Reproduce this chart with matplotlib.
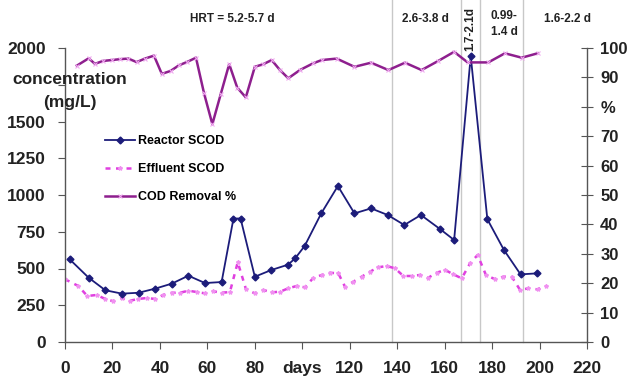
import matplotlib
matplotlib.use("Agg")
import matplotlib.pyplot as plt

plt.rcParams['font.family'] = ['Liberation Sans', 'DejaVu Sans']
plt.rcParams['font.weight'] = 'bold'

# Reactor SCOD (mg/L)
reactor_days = [2, 10, 17, 24, 31, 38, 45, 52, 59, 66, 71, 74, 80, 87, 94, 97, 101,
                108, 115, 122, 129, 136, 143, 150, 158, 164, 171, 178, 185, 192, 199]
reactor_vals = [562, 437, 352, 329, 335, 363, 397, 451, 401, 408, 840, 840, 444, 490, 526, 569, 653,
                875, 1061, 875, 909, 864, 796, 864, 769, 694, 1945, 835, 626, 460, 467]

# Effluent SCOD (mg/L)
effl_days = [0, 5.6, 9.4, 13.4, 16.9, 20.4, 23.9, 27.4, 30.9, 34.4, 37.9, 41.4, 45, 48.5, 52, 55.5,
             59, 62.5, 66, 69.5, 72.8, 76.3, 80, 83.6, 87.1, 90.6, 94.1, 97.6, 101.1, 104.6, 108.2,
             111.7, 115.2, 118, 121.5, 125, 128.5, 132, 135.6, 139.1, 142.6, 146.1, 149.6, 153.1,
             156.6, 160.2, 163.7, 167.2, 170.7, 173.9, 177.4, 181.2, 184.7, 188.3, 191.8, 195.3,
             199.2, 202.7]
effl_vals = [427, 381, 313, 320, 293, 277, 299, 281, 293, 299, 293, 320, 335, 335, 349, 340,
             331, 345, 335, 340, 542, 358, 331, 354, 338, 342, 365, 381, 372, 435, 456,
             471, 467, 376, 410, 444, 478, 508, 517, 501, 449, 449, 456, 437,
             471, 490, 460, 433, 535, 592, 456, 427, 444, 444, 354, 365,
             358, 381]

# COD Removal %
rem_days = [5, 10, 12.6, 16, 19.7, 23.2, 26.7, 30.2, 33.7, 37.5, 40.8, 44.5, 48, 51.6, 55.2,
            58.6, 62.1, 65.6, 69.2, 72.6, 76.2, 80, 83.6, 87.1, 90.6, 94.1, 99, 104.6, 108.2,
            114.5, 122, 129, 136.3, 143.3, 150.3, 157.3, 164, 169.7, 178.4, 185.4, 192.5, 199.2]
rem_vals = [94.0, 96.5, 94.6, 95.6, 95.9, 96.2, 96.4, 95.2, 96.4, 97.4, 91.2, 92.2, 94.1, 95.3, 96.7,
            84.6, 74.1, 84.2, 94.5, 86.5, 83.2, 93.6, 94.5, 95.9, 92.5, 89.7, 92.5, 94.8, 95.9,
            96.4, 93.6, 95.0, 92.5, 95.0, 92.5, 95.6, 98.7, 95.1, 95.1, 98.2, 96.7, 98.2]

hrt_lines = [138, 167, 175, 193]
x_ticks = [0, 20, 40, 60, 80, 100, 120, 140, 160, 180, 200, 220]
x_ticklabels = ['0', '20', '40', '60', '80', 'days', '120', '140', '160', '180', '200', '220']
y_ticks = [0, 250, 500, 750, 1000, 1250, 1500, 1750, 2000]
y_ticklabels = ['0', '250', '500', '750', '1000', '1250', '1500', '', '2000']
r_ticks = [0, 10, 20, 30, 40, 50, 60, 70, 80, 90, 100]
r_ticklabels = ['0', '10', '20', '30', '40', '50', '60', '70', '%', '90', '100']

fig = plt.figure(figsize=(6.3, 3.81), dpi=100)
ax = fig.add_axes([65/630, 1-342/381, (587-65)/630, (342-48)/381])
ax2 = ax.twinx()

navy = '#1c1c7a'
magenta = '#e040e0'
purple = '#8e1f8e'

for x in hrt_lines:
    ax.axvline(x, ymin=0, ymax=342/294, color='#c8c8c8', lw=1.0, clip_on=False, zorder=0)

l1, = ax.plot(reactor_days, reactor_vals, color=navy, lw=1.3, marker='D', ms=3.5,
              mfc=navy, mec=navy, label='Reactor SCOD', zorder=3)
l2, = ax.plot(effl_days, effl_vals, color=magenta, lw=1.8, ls=(0, (2, 2.2)), marker='*', ms=3,
              mfc='#f090f0', mec='#f090f0', label='Effluent SCOD', zorder=2)
l3, = ax2.plot(rem_days, rem_vals, color=purple, lw=1.8, marker='x', ms=3.5,
               mec='#f0a8f0', mew=0.8, label='COD Removal %', zorder=3)

ax.set_xlim(0, 220)
ax.set_ylim(0, 2000)
ax2.set_ylim(0, 100)

ax.set_xticks(x_ticks)
ax.set_xticklabels(x_ticklabels)
ax.set_yticks(y_ticks)
ax.set_yticklabels(y_ticklabels)
ax2.set_yticks(r_ticks)
ax2.set_yticklabels(r_ticklabels)

for a in (ax, ax2):
    a.spines['top'].set_visible(False)
    for s in a.spines.values():
        s.set_color('#555555')
        s.set_linewidth(1.0)
ax.spines['right'].set_visible(False)
ax2.spines['left'].set_visible(False)
ax2.spines['bottom'].set_visible(False)

ax.tick_params(axis='x', direction='out', length=5, pad=9, labelsize=12.5, colors='#555555',
               labelcolor='#222222')
ax.tick_params(axis='y', direction='out', length=5, pad=9, labelsize=12.5, colors='#555555',
               labelcolor='#222222')
ax2.tick_params(axis='y', direction='inout', length=9, pad=5, labelsize=12, colors='#555555',
                labelcolor='#222222')
for lab in ax.get_xticklabels() + ax.get_yticklabels() + ax2.get_yticklabels():
    lab.set_fontweight('bold')

fig.text(70/630, 1-80/381, 'concentration', ha='center', va='center', fontsize=12.5,
         fontweight='bold', color='#222222')
fig.text(70/630, 1-103/381, '(mg/L)', ha='center', va='center', fontsize=12.5,
         fontweight='bold', color='#222222')

def ftxt(x, y, s, **kw):
    fig.text(x/630, 1-y/381, s, ha='center', va='center', fontsize=8.5, fontweight='bold',
             color='#222222', **kw)

ftxt(232, 19, 'HRT = 5.2-5.7 d')
ftxt(425, 19, '2.6-3.8 d')
ftxt(470, 29, '1.7-2.1d', rotation=90)
ftxt(504, 24, '0.99-\n1.4 d', linespacing=1.4)
ftxt(567, 19, '1.6-2.2 d')

leg = ax.legend(handles=[l1, l2, l3], loc='upper left',
                bbox_to_anchor=((100-65)/522, (342-130)/294), frameon=False,
                prop={'size': 9, 'weight': 'bold'}, handlelength=2.4, handletextpad=0.25,
                labelspacing=1.3, borderaxespad=0)

fig.savefig('out.png', dpi=100, facecolor='white')
